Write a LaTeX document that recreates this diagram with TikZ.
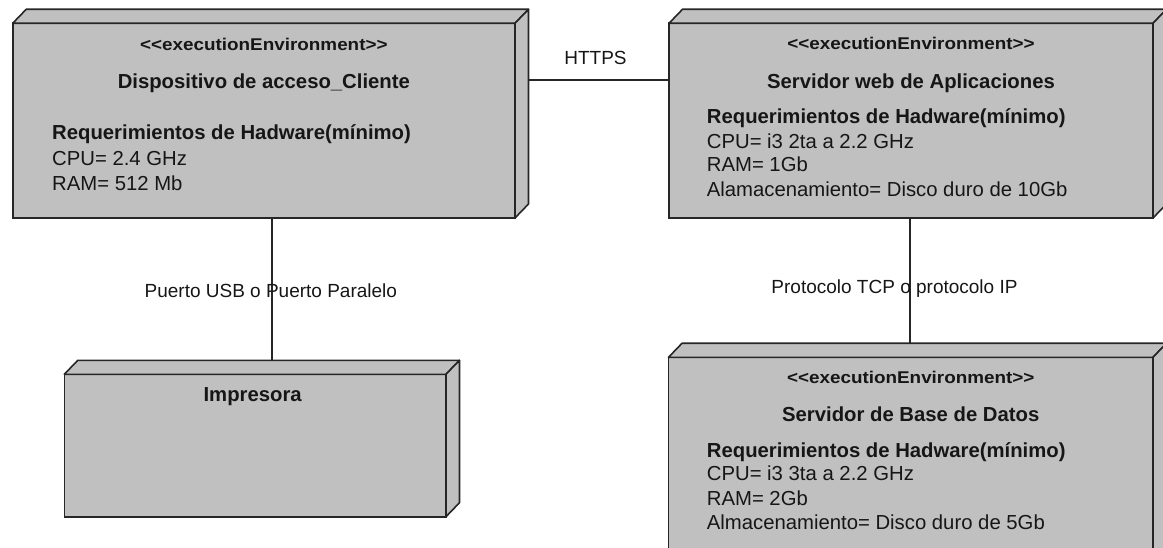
\documentclass[tikz,border=0pt]{standalone}
\usepackage{fontspec}
\setmainfont{Liberation Sans}
\newfontfamily\stereofont{Liberation Sans}[FakeStretch=1.11]
\usetikzlibrary{calc}

\definecolor{nodegray}{RGB}{192,192,192}
\definecolor{edgeink}{RGB}{38,38,38}
\definecolor{textink}{RGB}{22,22,22}

\tikzset{
  box/.style={draw=edgeink, fill=nodegray, line width=1.6pt, rectangle,
              outer sep=0pt, inner sep=0pt, anchor=north west},
  face/.style={draw=edgeink, fill=nodegray, line width=1.6pt, line join=round},
  conn/.style={draw=edgeink, line width=1.4pt},
  stereo/.style={anchor=base, inner sep=0pt, text=textink,
                 font=\stereofont\bfseries\fontsize{17}{20}\selectfont},
  title/.style={anchor=base, inner sep=0pt, text=textink,
                font=\bfseries\fontsize{20.3}{24}\selectfont},
  reqhead/.style={anchor=base west, inner sep=0pt, text=textink,
                  font=\bfseries\fontsize{20.3}{24}\selectfont},
  req/.style={anchor=base west, inner sep=0pt, text=textink,
              font=\fontsize{20.3}{24}\selectfont},
  lbl/.style={anchor=base, inner sep=0pt, text=textink,
              font=\fontsize{19}{22}\selectfont},
}

% top and right faces of a UML node box
\newcommand\boxfaces[1]{%
  \filldraw[face] (#1.north west) -- ++(13.5,-14) -- ($(#1.north east)+(13.5,-14)$)
     -- (#1.north east) -- cycle;
  \filldraw[face] (#1.north east) -- ++(13.5,-14) -- ($(#1.south east)+(13.5,-14)$)
     -- (#1.south east) -- cycle;
}
\newcommand\stereotype{<\kern0pt<executionEnvironment>\kern0pt>}

\begin{document}
\begin{tikzpicture}[x=1pt,y=-1pt]
\useasboundingbox (0,0) rectangle (1163,548);
\clip (0,0) rectangle (1163,548);

% client device
\node[box, minimum width=502.3pt, minimum height=194.7pt] (cli) at (12.7,23.3) {};
\boxfaces{cli}
\node[stereo] (clist) at ($(cli.north)+(0,27.2)$) {\stereotype};
\node[title] (clititle) at ($(cli.north)+(0,65.2)$) {Dispositivo de acceso\_Cliente};
\node[reqhead] (clireq) at ($(cli.north west)+(39.3,116.7)$) {Requerimientos de Hadware(mínimo)};
\node[req] (clicpu) at ($(cli.north west)+(39.3,142.7)$) {CPU= 2.4 GHz};
\node[req] (cliram) at ($(cli.north west)+(39.3,167.2)$) {RAM= 512 Mb};

% web / application server
\node[box, minimum width=484pt, minimum height=194.7pt] (srv) at (669,23.3) {};
\boxfaces{srv}
\node[stereo] (srvst) at ($(srv.north)+(0,26.7)$) {\stereotype};
\node[title] (srvtitle) at ($(srv.north)+(0,65)$) {Servidor web de Aplicaciones};
\node[reqhead] (srvreq) at ($(srv.north west)+(37.7,100)$) {Requerimientos de Hadware(mínimo)};
\node[req] (srvcpu) at ($(srv.north west)+(37.7,125)$) {CPU= i3 2ta a 2.2 GHz};
\node[req] (srvram) at ($(srv.north west)+(37.7,148.7)$) {RAM= 1Gb};
\node[req] (srvalm) at ($(srv.north west)+(37.7,173.4)$) {Alamacenamiento= Disco duro de 10Gb};

% database server
\node[box, minimum width=484.5pt, minimum height=230pt] (db) at (668.5,357.3) {};
\boxfaces{db}
\node[stereo] (dbst) at ($(db.north)+(0,26.3)$) {\stereotype};
\node[title] (dbtitle) at ($(db.north)+(0,64.6)$) {Servidor de Base de Datos};
\node[reqhead] (dbreq) at ($(db.north west)+(38.2,100.5)$) {Requerimientos de Hadware(mínimo)};
\node[req] (dbcpu) at ($(db.north west)+(38.2,123.5)$) {CPU= i3 3ta a 2.2 GHz};
\node[req] (dbram) at ($(db.north west)+(38.2,147.7)$) {RAM= 2Gb};
\node[req] (dbalm) at ($(db.north west)+(38.2,172.3)$) {Almacenamiento= Disco duro de 5Gb};

% printer
\node[box, minimum width=381.7pt, minimum height=142.4pt] (prn) at (64.3,374.3) {};
\boxfaces{prn}
\node[title] (prntitle) at ($(prn.north)+(-2.5,27.4)$) {Impresora};

% connectors
\coordinate (httpsL) at ($(cli.north east)+(13.5,56.7)$);
\draw[conn] (httpsL) -- node[lbl, pos=0.477, yshift=15pt] (httpslbl) {HTTPS} (srv.west |- httpsL);

\coordinate (usbA) at ([xshift=8pt]cli.south);
\coordinate (usbB) at ([xshift=16.5pt,yshift=14pt]prn.north);
\draw[conn] (usbA) -- node[lbl, pos=0.557, xshift=-1pt] (usblbl) {Puerto USB o Puerto Paralelo} (usbA |- usbB);

\coordinate (dbback) at ([yshift=14pt]db.north);
\draw[conn] ([xshift=-1pt]srv.south) -- node[lbl, pos=0.601, xshift=-15.5pt] (tcplbl) {Protocolo TCP o protocolo IP} ([xshift=-1pt]srv.south |- dbback);
\end{tikzpicture}
\end{document}
